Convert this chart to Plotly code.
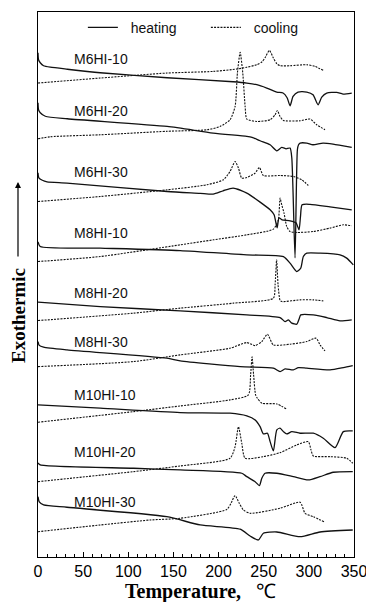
import plotly.graph_objects as go

# ---------------- data (temperature in degC, heat flow in arbitrary offset units) ----------------
samples = ["M6HI-10", "M6HI-20", "M6HI-30", "M8HI-10", "M8HI-20", "M8HI-30",
           "M10HI-10", "M10HI-20", "M10HI-30"]

# heating curves (solid)
h_M6HI_10_T = [0, 0.6, 2.5, 6.2, 13.6, 32.4, 68.9, 143.1, 216.1, 231.3, 242.3, 253.4, 264.5, 271.4, 275.9,
               279.2, 282.5, 288, 297.7, 304.6, 310.2, 314.3, 319.8, 330.9, 337.8, 347.5]
h_M6HI_10_Q = [504, 497, 494, 491, 489.5, 487.5, 484, 479, 475, 473.7, 472, 468.7, 464.7, 463.7, 459,
               451, 460.3, 464.7, 464.7, 462, 452, 459.7, 463.7, 464.3, 462.7, 463.7]

h_M6HI_20_T = [0, 0.6, 2.5, 8.1, 32.4, 143.1, 194, 231.3, 237.1, 246, 257.1, 264.5, 270, 274.8, 279.2,
               281.1, 284.7, 287.3, 288.6, 290.3, 297.7, 304.6, 315.7, 326.8, 347.5]
h_M6HI_20_Q = [454, 447, 444, 440.5, 438, 430.3, 423.7, 420.5, 419.5, 416, 412, 406, 409.3, 408, 408.7,
               399, 299, 407, 412, 413.7, 413.7, 412, 413.7, 412.7, 409.3]

h_M6HI_30_T = [0, 0.9, 4.8, 10, 32.1, 143.1, 179.6, 194, 205, 216.1, 231.3, 246, 257.1, 261.5, 264.8,
               267, 270.3, 279.2, 285.8, 289.1, 290.8, 292.5, 301.3, 323.4, 347.5]
h_M6HI_30_Q = [384, 379, 376.5, 375, 373.7, 365.3, 363.5, 362.7, 366, 368.7, 363.7, 354.7, 347, 342, 329,
               339, 337, 336, 334, 327, 341, 352, 352.5, 350, 347]

h_M8HI_10_T = [0, 2.5, 68.9, 157.5, 231.3, 271.8, 279.2, 286.6, 291, 293.9, 297.7, 312.4, 334.5, 341.9, 349.2]
h_M8HI_10_Q = [315, 310.3, 308.7, 306.3, 302, 300.3, 293.7, 285.3, 288.7, 300.3, 303.7, 303.7, 302, 298.7, 292]

h_M8HI_20_T = [0, 68.9, 157.5, 231.3, 268.1, 273.7, 277.3, 281.1, 286.6, 289.5, 291, 304.9, 319.8, 334.5, 347.5]
h_M8HI_20_Q = [254.7, 250.3, 246, 242, 239.3, 235.3, 237, 233.7, 232.7, 238.7, 242, 242, 239.3, 236, 237]

h_M8HI_30_T = [0, 1.4, 6.2, 32.1, 142.7, 157.5, 223.9, 260.7, 268.1, 273.7, 282.8, 288.4, 297.7, 323.4, 338.2, 348.6]
h_M8HI_30_Q = [215.3, 211.5, 209.7, 207, 198.7, 196, 190.3, 188.7, 185.3, 188, 187, 189.3, 188.7, 187, 189.3, 191.3]

h_M10HI_10_T = [0, 68.9, 157.5, 212.7, 231.3, 240.5, 246, 249.6, 254.1, 257.1, 260.7, 264.5, 268.1, 271.8,
                275.5, 281.1, 290.3, 304.9, 316, 329, 338.2, 348.6]
h_M10HI_10_Q = [152, 148.7, 144.3, 143.7, 141, 137, 130.3, 123, 123.7, 115.3, 106, 127, 128.7, 125.3,
                123, 125.3, 123.7, 123.7, 118.7, 109.3, 125.3, 126]

h_M10HI_20_T = [0, 2.5, 105.8, 157.5, 225.7, 231.3, 240.5, 245.2, 247.9, 251.5, 264.5, 282.8, 299.4, 312.4, 327.1, 348.6]
h_M10HI_20_Q = [94, 92, 88.7, 87, 83.7, 80.3, 75.3, 71.3, 78.7, 83.7, 83.7, 80.3, 77, 80.3, 84.7, 85.3]

h_M10HI_30_T = [0, 1.4, 6.2, 32.1, 142.7, 179.6, 223.9, 234.9, 244.1, 249.6, 264.5, 290.3, 312.4, 348.6]
h_M10HI_30_Q = [60.3, 55, 52, 49.7, 40.3, 32, 27.8, 21, 17, 23.7, 25, 20.3, 25, 27]

# cooling curves (dotted)
c_M6HI_10_T = [0, 68.9, 143.1, 194, 220.2, 231.3, 242.3, 248.2, 251.5, 256.3, 260.7, 264.5, 268.1, 279.2, 297.7, 306.9, 316]
c_M6HI_10_Q = [473.7, 478.7, 483.7, 485.3, 487.7, 489.5, 492, 495, 499, 506.3, 498.7, 493, 491, 491, 492, 490.3, 486.3]

c_M6HI_20_T = [0, 13.6, 68.9, 143.1, 187.3, 201.7, 212.7, 218.3, 220.9, 223.9, 226.8, 229.4, 231.3, 242.3,
               257.1, 262.6, 265.1, 268.1, 271.8, 290.3, 301.3, 308.7, 317.9]
c_M6HI_20_Q = [418, 420, 422, 425.5, 427, 430.3, 437, 450.3, 484, 504.3, 483.7, 450.3, 437.7, 435.3,
               437, 442, 446.3, 440.3, 436.3, 436, 437.7, 432, 427]

c_M6HI_30_T = [0, 68.9, 143.1, 187, 205.4, 212.7, 218.3, 222, 225.7, 231.3, 240.5, 245.2, 249.6, 268.1, 282.8, 292.1, 299.4]
c_M6HI_30_Q = [355.3, 360.3, 367, 372, 377, 385.3, 395.3, 388.7, 378.7, 379.3, 383.7, 389.3, 381.3, 381.3, 380.3, 377, 371.3]

c_M8HI_10_T = [0, 68.9, 157.5, 194.3, 231.3, 260.7, 266.2, 268.1, 270, 272.5, 275.5, 279.2, 286.6, 304.9, 323.4, 338.2, 347.5]
c_M8HI_10_Q = [295.3, 300.3, 312, 317, 322, 327.7, 337, 358.7, 352, 343.7, 330.3, 325.3, 324.3, 325.3, 328.7, 332, 331]

c_M8HI_20_T = [0, 105.5, 157.5, 216.4, 260.7, 262.6, 264.3, 265.9, 268.1, 270, 290.3, 304.9, 316]
c_M8HI_20_Q = [236.3, 243.7, 248.7, 253.7, 258.7, 272, 297, 272, 256.5, 255.3, 257, 257, 256]

c_M8HI_30_T = [0, 105.8, 157.5, 212.7, 231.3, 240.5, 247.9, 254.1, 260.7, 279.2, 297.7, 308, 312.4, 317.9]
c_M8HI_30_Q = [190.3, 195.3, 202, 208.7, 214.3, 211.3, 215.3, 222.7, 212, 212.7, 215.3, 218.7, 212, 206]

c_M10HI_10_T = [0, 105.8, 157.5, 212.7, 233, 235.5, 237.1, 238.8, 241, 243, 247.9, 264.5, 275.5]
c_M10HI_10_Q = [134.7, 145.3, 151, 157, 162, 182, 200, 182, 162, 158.7, 153.7, 153, 147.7]

c_M10HI_20_T = [0, 105.8, 157.5, 212.7, 218.3, 222, 225.7, 229.4, 249.6, 268.1, 286.6, 299.4, 302.4, 304.9, 323.4, 341.9, 348.6]
c_M10HI_20_Q = [75.3, 85.3, 91, 98.7, 110.3, 130.3, 113.7, 98.7, 100.3, 104.3, 112, 115.3, 107, 101, 100.3, 98.7, 93.7]

c_M10HI_30_T = [0, 68.9, 124.3, 157.5, 209.1, 213.9, 218.3, 222.7, 227.5, 234.9, 268.1, 290.3, 295.8, 304.9, 317.9]
c_M10HI_30_Q = [25.3, 32, 37, 38.7, 47.5, 54, 61.5, 54, 47, 43.7, 48.7, 54.7, 43.7, 40.3, 34.7]

heating_T = [h_M6HI_10_T, h_M6HI_20_T, h_M6HI_30_T, h_M8HI_10_T, h_M8HI_20_T, h_M8HI_30_T,
             h_M10HI_10_T, h_M10HI_20_T, h_M10HI_30_T]
heating_Q = [h_M6HI_10_Q, h_M6HI_20_Q, h_M6HI_30_Q, h_M8HI_10_Q, h_M8HI_20_Q, h_M8HI_30_Q,
             h_M10HI_10_Q, h_M10HI_20_Q, h_M10HI_30_Q]
cooling_T = [c_M6HI_10_T, c_M6HI_20_T, c_M6HI_30_T, c_M8HI_10_T, c_M8HI_20_T, c_M8HI_30_T,
             c_M10HI_10_T, c_M10HI_20_T, c_M10HI_30_T]
cooling_Q = [c_M6HI_10_Q, c_M6HI_20_Q, c_M6HI_30_Q, c_M8HI_10_Q, c_M8HI_20_Q, c_M8HI_30_Q,
             c_M10HI_10_Q, c_M10HI_20_Q, c_M10HI_30_Q]

label_T = 38
label_Q = [498, 446, 385, 324, 264, 215, 162, 105, 55]

x_ticks = [0, 50, 100, 150, 200, 250, 300, 350]

# ---------------- figure ----------------
INK = "#111111"
fig = go.Figure()

for i, name in enumerate(samples):
    fig.add_trace(go.Scatter(
        x=heating_T[i], y=heating_Q[i], mode="lines", name="\u00a0\u00a0heating",
        legendgroup="heating", showlegend=(i == 0),
        line=dict(color=INK, width=1.3, shape="spline", smoothing=0.6),
        hoverinfo="skip"))
for i, name in enumerate(samples):
    fig.add_trace(go.Scatter(
        x=cooling_T[i], y=cooling_Q[i], mode="lines", name="\u00a0\u00a0cooling",
        legendgroup="cooling", showlegend=(i == 0),
        line=dict(color=INK, width=1.1, dash="2px,1.2px", shape="spline", smoothing=0.6),
        hoverinfo="skip"))

annotations = []
for name, q in zip(samples, label_Q):
    annotations.append(dict(x=label_T, y=q, xref="x", yref="y", text=name, showarrow=False,
                            xanchor="left", yanchor="middle",
                            font=dict(family="Liberation Sans, Arial", size=14, color=INK)))

# y-axis title with arrow
annotations.append(dict(x=-0.0633, y=0.444, xref="paper", yref="paper", text="<b>Exothermic</b>",
                        textangle=-90, showarrow=False, xanchor="center", yanchor="middle",
                        font=dict(family="Liberation Serif, Times New Roman", size=19, color="#000")))
annotations.append(dict(x=-0.0633, y=0.688, xref="paper", yref="paper", text="",
                        showarrow=True, ax=0, ay=76, arrowhead=2, arrowsize=1, arrowwidth=1.2,
                        arrowcolor="#000"))
# x-axis title
annotations.append(dict(x=0.513, y=-0.064, xref="paper", yref="paper",
                        text="<b>Temperature,</b>\u00a0\u00a0\u00a0℃", showarrow=False,
                        xanchor="center", yanchor="middle",
                        font=dict(family="Liberation Serif, Times New Roman", size=20, color="#000")))

fig.update_layout(
    width=366, height=602,
    margin=dict(l=38, r=12, t=12, b=45, autoexpand=False),
    paper_bgcolor="white", plot_bgcolor="white",
    showlegend=True,
    legend=dict(orientation="h", x=0.142, y=0.971, xanchor="left", yanchor="middle",
                entrywidth=78, entrywidthmode="pixels",
                font=dict(family="Liberation Sans, Arial", size=14, color=INK),
                bgcolor="rgba(0,0,0,0)"),
    annotations=annotations,
    xaxis=dict(range=[0, 350], tickvals=x_ticks, ticks="inside", ticklen=5, tickwidth=1,
               tickcolor="#000", showline=True, linecolor="#000", linewidth=1.3, mirror=True,
               showgrid=False, zeroline=False, ticklabeloverflow="allow", automargin=False,
               tickfont=dict(family="Liberation Sans, Arial", size=16, color="#000"),
               minor=dict(ticks="inside", dtick=10, ticklen=3, tickcolor="#000", showgrid=False)),
    yaxis=dict(range=[0, 544.7], showticklabels=False, ticks="", showline=True, linecolor="#000",
               linewidth=1.3, mirror=True, showgrid=False, zeroline=False, automargin=False),
)

fig.write_html("out.html",
               config={"displayModeBar": False},
               post_script="document.body.style.margin='0';document.body.style.padding='0';"
                           "document.documentElement.style.overflow='hidden';")
